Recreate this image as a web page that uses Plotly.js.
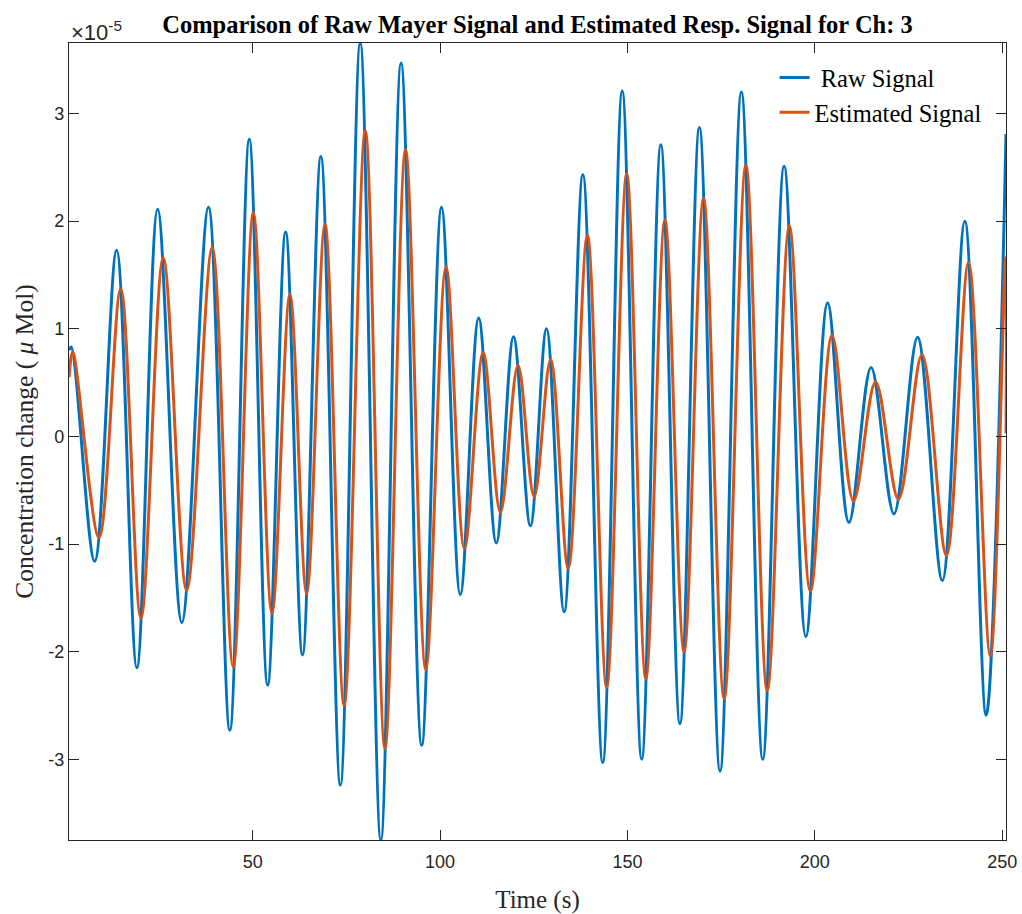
<!DOCTYPE html>
<html>
<head>
<meta charset="utf-8">
<script src="https://cdn.plot.ly/plotly-3.0.1.min.js"></script>
<style>html,body{margin:0;padding:0;background:#fff;}#chart{width:1022px;height:914px;}</style>
</head>
<body>
<div id="chart"></div>
<script>
// Raw Mayer signal (units of 1e-5 µMol): times of read-off points (s) and values
const rawTime = [1, 1.6, 7.84, 13.7, 19.1, 24.65, 31.1, 38.2, 43.9, 49.1, 54.0, 58.8, 63.3, 68.2, 73.4, 78.7, 84.2, 89.6, 95.1, 100.4, 105.4, 110.3, 115.0, 119.6, 124.1, 128.4, 133.1, 138.1, 143.4, 148.6, 153.8, 158.9, 164.0, 169.2, 174.7, 180.4, 186.1, 191.8, 197.6, 203.4, 209.1, 215.0, 221.1, 227.4, 234.0, 240.0, 245.7, 251];
const rawValue = [0.80, 0.83, -1.16, 1.73, -2.15, 2.11, -1.73, 2.13, -2.73, 2.76, -2.31, 1.90, -2.03, 2.60, -3.24, 3.655, -3.75, 3.47, -2.87, 2.13, -1.47, 1.10, -0.99, 0.925, -0.83, 1.00, -1.63, 2.43, -3.03, 3.21, -3.00, 2.71, -2.67, 2.87, -3.11, 3.20, -3.00, 2.51, -1.86, 1.24, -0.80, 0.64, -0.72, 0.92, -1.34, 2.00, -2.59, 2.81];

// Estimated respiration signal
const estTime = [1, 2.0, 9.0, 14.8, 20.2, 26.15, 32.4, 39.2, 44.8, 50.2, 55.15, 59.95, 64.4, 69.3, 74.4, 80.05, 85.3, 90.8, 96.2, 101.6, 106.5, 111.5, 116.1, 120.8, 125.1, 129.5, 134.2, 139.3, 144.45, 149.8, 154.9, 160.0, 165.1, 170.3, 175.8, 181.6, 187.3, 193.2, 198.8, 204.6, 210.3, 216.2, 222.3, 228.6, 235.1, 241.0, 246.8, 250.9, 251];
const estValue = [0.55, 0.785, -0.94, 1.37, -1.69, 1.66, -1.43, 1.755, -2.14, 2.08, -1.645, 1.32, -1.46, 1.97, -2.50, 2.84, -2.90, 2.66, -2.165, 1.575, -1.04, 0.776, -0.707, 0.661, -0.562, 0.714, -1.227, 1.87, -2.33, 2.44, -2.25, 2.01, -2.00, 2.21, -2.435, 2.52, -2.36, 1.956, -1.44, 0.94, -0.60, 0.506, -0.583, 0.761, -1.104, 1.615, -2.04, 1.66, 0.03];

const xTickVals = [50, 100, 150, 200, 250];
const xTickText = ['50', '100', '150', '200', '250'];
const yTickVals = [-3, -2, -1, 0, 1, 2, 3];
const yTickText = ['-3', '-2', '-1', '0', '1', '2', '3'];

const serif = 'Liberation Serif, Times New Roman, serif';
const sans = 'Liberation Sans, Arial, sans-serif';
const axisColor = '#262626';

const traces = [
  {x: rawTime, y: rawValue, type: 'scatter', mode: 'lines', name: ' Raw Signal',
   line: {color: '#0072BD', width: 3, shape: 'spline'}},
  {x: estTime, y: estValue, type: 'scatter', mode: 'lines', name: 'Estimated Signal',
   line: {color: '#D95319', width: 3, shape: 'spline'}}
];

const layout = {
  width: 1022, height: 914,
  margin: {l: 69, r: 16, t: 43, b: 74},
  paper_bgcolor: '#fff', plot_bgcolor: '#fff',
  title: {text: 'Comparison of Raw Mayer Signal and Estimated Resp. Signal for Ch: 3',
          font: {family: serif, size: 24.5, color: '#000', weight: 'bold'},
          x: 0.5, xref: 'paper', y: 1 - 33 / 914, yref: 'container', yanchor: 'bottom'},
  xaxis: {range: [1, 251], tickvals: xTickVals, ticktext: xTickText,
          ticks: 'inside', ticklen: 10, tickwidth: 1, tickcolor: axisColor,
          showline: true, linecolor: axisColor, linewidth: 1.3, mirror: 'ticks',
          showgrid: false, zeroline: false, ticklabelstandoff: 5,
          tickfont: {family: sans, size: 18, color: axisColor},
          title: {text: 'Time (s)', font: {family: serif, size: 25, color: axisColor}, standoff: 19}},
  yaxis: {range: [-3.75, 3.655], tickvals: yTickVals, ticktext: yTickText,
          ticks: 'inside', ticklen: 10, tickwidth: 1, tickcolor: axisColor,
          showline: true, linecolor: axisColor, linewidth: 1.3, mirror: 'ticks',
          showgrid: false, zeroline: false,
          tickfont: {family: sans, size: 18, color: axisColor},
          title: {text: 'Concentration change ( <i>μ</i> Mol)', font: {family: serif, size: 25.5, color: axisColor}, standoff: 7}},
  showlegend: true,
  legend: {x: 0.753, y: 0.985, xanchor: 'left', yanchor: 'top', bgcolor: 'rgba(0,0,0,0)',
           font: {family: serif, size: 24.5, color: '#000'}, tracegroupgap: 0},
  annotations: [
    {text: '×10<sup>-5</sup>', xref: 'paper', yref: 'paper', x: 0, y: 1, xanchor: 'left', yanchor: 'bottom',
     showarrow: false, font: {family: sans, size: 22, color: axisColor}, yshift: -4}
  ]
};

Plotly.newPlot('chart', traces, layout, {displayModeBar: false});
</script>
</body>
</html>
